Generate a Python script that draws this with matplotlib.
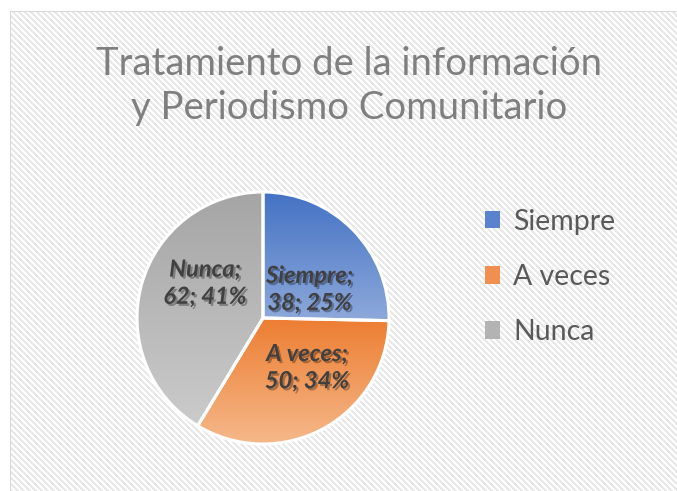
import numpy as np
import matplotlib
matplotlib.use("Agg")
import matplotlib.pyplot as plt
from matplotlib.patches import Patch, Wedge
from matplotlib.colors import LinearSegmentedColormap
import matplotlib.patheffects as pe

categories = ["Siempre", "A veces", "Nunca"]
values = [38, 50, 62]
percent_labels = ["25%", "34%", "41%"]
title_text = "Tratamiento de la información\ny Periodismo Comunitario"

top_colors = ["#4472C4", "#ED7D31", "#A5A5A5"]
bottom_colors = ["#8EA9DB", "#F5B88A", "#CBCBCB"]
legend_colors = ["#5B82CC", "#F08F4F", "#B3B3B3"]

W, H = 677, 491
fig = plt.figure(figsize=(W / 100, H / 100), dpi=100)

# background pattern
bg = fig.add_axes([0, 0, 1, 1])
bg.set_axis_off()
yy, xx = np.mgrid[0:H, 0:W]
img = np.ones((H, W, 3))
stripe = ((xx - yy) % 6) < 3
img[stripe] = np.array([0.91, 0.91, 0.91])
img[(xx < 10) | (yy < 11)] = 1.0
img[(xx == 10) & (yy >= 11)] = 0.85
img[(yy == 11) & (xx >= 10)] = 0.85
bg.imshow(img, extent=(0, W, H, 0), interpolation="nearest", aspect="auto")
bg.set_xlim(0, W)
bg.set_ylim(H, 0)

# pie axes
cx, cy, r = 263, 318, 126
pad = 132
ax = fig.add_axes([(cx - pad) / W, (H - cy - pad) / H, 2 * pad / W, 2 * pad / H])
ax.set_axis_off()
lim = pad / r
wedges, _ = ax.pie(values, startangle=90, counterclock=False, radius=1,
                   wedgeprops=dict(linewidth=0, edgecolor="white"))
ax.set_xlim(-lim, lim)
ax.set_ylim(-lim, lim)
ax.set_aspect("equal")

for w, ct, cb in zip(wedges, top_colors, bottom_colors):
    w.set_facecolor("none")
    verts = w.get_path().vertices
    x0, x1 = verts[:, 0].min(), verts[:, 0].max()
    y0, y1 = verts[:, 1].min(), verts[:, 1].max()
    cmap = LinearSegmentedColormap.from_list("g", [cb, ct])
    grad = np.linspace(0, 1, 256).reshape(-1, 1)
    im = ax.imshow(grad, cmap=cmap, extent=(x0, x1, y0, y1), origin="lower",
                   aspect="auto", zorder=1)
    im.set_clip_path(w)
    ew = Wedge(w.center, w.r, w.theta1, w.theta2, facecolor="none",
               edgecolor="white", linewidth=2.2, zorder=3)
    ax.add_patch(ew)
ax.set_xlim(-lim, lim)
ax.set_ylim(-lim, lim)

label_pos = [(0.37, 0.23), (0.35, -0.39), (-0.46, 0.28)]
for (lx, ly), cat, v, p in zip(label_pos, categories, values, percent_labels):
    ax.text(lx, ly, f"{cat};\n{v}; {p}", ha="center", va="center",
            fontsize=17, fontweight="bold", fontstyle="italic",
            color="#404040", family=["Lato", "DejaVu Sans"], zorder=5,
            linespacing=1.22,
            path_effects=[pe.SimplePatchShadow(offset=(1.5, -1.5), alpha=0.3, shadow_rgbFace="#000000"),
                          pe.Normal()])

fig.text(349 / W, 1 - 86 / H, title_text, ha="center", va="center",
         fontsize=27.5, color="#7F7F7F", family=["Lato", "DejaVu Sans"],
         fontweight="normal", linespacing=1.3)

handles = [Patch(facecolor=c, edgecolor="none") for c in legend_colors]
fig.legend(handles, categories, loc="center left",
           bbox_to_anchor=(459 / W, 1 - 277 / H), frameon=False,
           prop=dict(family=["Lato", "DejaVu Sans"], size=20.5),
           labelcolor="#595959", handlelength=0.55, handleheight=0.55,
           handletextpad=0.45, labelspacing=1.02)

fig.savefig("out.png", dpi=100)
